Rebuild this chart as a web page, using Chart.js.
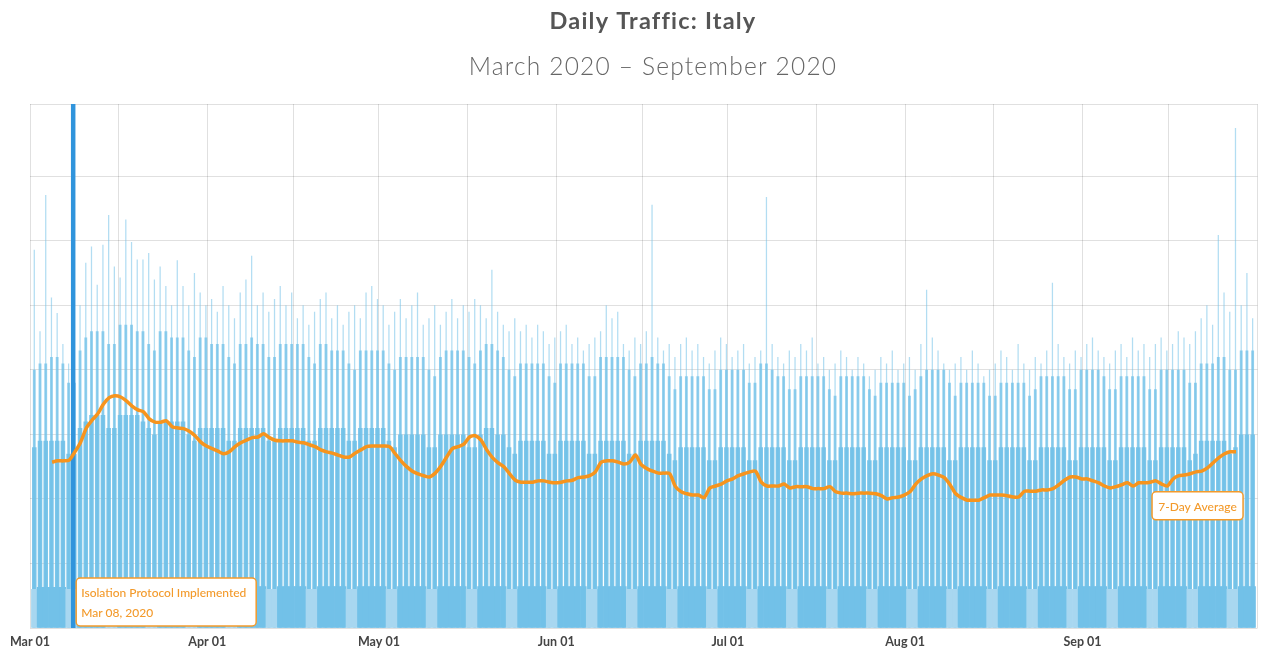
<!DOCTYPE html>
<html>
<head>
<meta charset="utf-8">
<title>Daily Traffic: Italy</title>
<script src="https://cdn.jsdelivr.net/npm/chart.js@4.4.0/dist/chart.umd.min.js"></script>
<style>
  html, body { margin: 0; padding: 0; background: #fff; }
  .wrap { width: 1264px; height: 650px; position: relative; }
</style>
</head>
<body>
<div class="wrap"><canvas id="chart"></canvas></div>
<script>
// x axis is "days since Mar 01, 2020"
const monthLabels = ['Mar 01', 'Apr 01', 'May 01', 'Jun 01', 'Jul 01', 'Aug 01', 'Sep 01'];
const monthStarts = [0, 31, 61, 92, 122, 153, 184];
const monthEnd = 214;

// evening peak of each day (one row = one week, Sun..Sat)
const dailyPeak = [
  58.6, 46, 67.1, 51.2, 48.8, 44, 41,
  43, 50, 56.6, 59.1, 53.2, 59.4, 64.0,
  56.0, 54.3, 63.3, 59.8, 57.1, 57.1, 58.1,
  54, 56, 53, 50, 57, 53, 50,
  55, 52, 50, 51, 49, 53, 50,
  48, 52, 54, 57.7, 50, 52, 49,
  51, 53, 50, 52, 48, 50, 47,
  49, 51, 52, 48, 50, 47, 49,
  50, 48, 52, 53, 51, 50, 47,
  49, 51, 48, 50, 52, 47, 48,
  50, 47, 49, 51, 48, 50, 49,
  51, 50, 48, 55.5, 49, 47, 46,
  48, 46, 47, 45, 47, 46, 44,
  45, 46, 47, 44, 45, 43, 44,
  45, 46, 50, 48, 49, 44, 43,
  45, 44, 46, 65.6, 45, 43, 44,
  42, 44, 45, 43, 44, 42, 41,
  43, 45, 44, 42, 43, 44, 41,
  42, 43, 66.8, 44, 42, 41, 43,
  42, 44, 43, 45, 41, 42, 40,
  41, 43, 42, 40, 42, 41, 39,
  40, 42, 41, 43, 40, 41, 42,
  40, 44, 52.4, 45, 43, 41, 40,
  41, 42, 40, 43, 41, 39, 40,
  41, 43, 42, 40, 44, 41, 40,
  42, 41, 43, 53.5, 44, 42, 41,
  43, 42, 44, 45, 43, 42, 41,
  43, 44, 42, 45, 43, 44, 42,
  44, 45, 43, 44, 46, 45, 44,
  46, 48, 50, 47, 60.9, 52, 49,
  77.5, 50, 55, 48
];

// upper edge of the busy hours
const dailyBody = [
  40, 41, 41, 42, 42, 41, 38,
  38, 43, 45, 46, 46, 46, 44,
  44, 47, 47, 47, 46, 46, 44,
  43, 46, 46, 45, 45, 45, 43,
  42, 45, 45, 44, 44, 44, 42,
  41, 44, 44, 45, 44, 44, 42,
  42, 44, 44, 44, 44, 44, 42,
  41, 44, 44, 43, 43, 43, 41,
  40, 43, 43, 43, 43, 43, 41,
  40, 42, 42, 42, 42, 42, 40,
  39, 42, 43, 43, 43, 43, 42,
  41, 43, 44, 44, 43, 42, 40,
  39, 41, 41, 41, 41, 41, 39,
  38, 41, 41, 41, 41, 41, 39,
  39, 42, 42, 42, 42, 42, 40,
  39, 41, 41, 42, 41, 41, 39,
  37, 39, 39, 39, 39, 39, 37,
  37, 40, 40, 40, 40, 40, 38,
  38, 41, 41, 40, 39, 39, 37,
  37, 39, 39, 39, 39, 39, 37,
  36, 39, 39, 39, 39, 39, 37,
  36, 38, 38, 38, 38, 38, 36,
  37, 39, 40, 40, 40, 40, 38,
  36, 38, 38, 38, 38, 38, 36,
  36, 38, 38, 38, 38, 38, 36,
  37, 39, 39, 39, 39, 39, 37,
  37, 40, 40, 40, 40, 39, 37,
  37, 39, 39, 39, 39, 39, 37,
  37, 40, 40, 40, 40, 40, 38,
  38, 41, 41, 41, 42, 42, 40,
  40, 43, 43, 43
];

// level most hours of the day stay above
const dailyCore = [
  28, 29, 29, 29, 29, 29, 27,
  27, 31, 32, 33, 33, 33, 31,
  31, 33, 33, 33, 33, 32, 31,
  30, 32, 32, 32, 32, 32, 30,
  29, 31, 31, 31, 31, 31, 29,
  29, 31, 31, 31, 31, 31, 29,
  29, 31, 31, 31, 31, 31, 29,
  29, 31, 31, 31, 31, 31, 29,
  29, 31, 31, 31, 31, 31, 29,
  28, 30, 30, 30, 30, 30, 28,
  28, 30, 30, 30, 30, 30, 28,
  28, 30, 31, 31, 30, 30, 28,
  27, 29, 29, 29, 29, 29, 27,
  27, 29, 29, 29, 29, 29, 27,
  27, 29, 29, 29, 29, 29, 27,
  27, 29, 29, 29, 29, 29, 27,
  26, 28, 28, 28, 28, 28, 26,
  26, 28, 28, 28, 28, 28, 26,
  26, 28, 28, 28, 28, 28, 26,
  26, 28, 28, 28, 28, 28, 26,
  26, 28, 28, 28, 28, 28, 26,
  26, 28, 28, 28, 28, 28, 26,
  26, 28, 28, 28, 28, 28, 26,
  26, 28, 28, 28, 28, 28, 26,
  26, 28, 28, 28, 28, 28, 26,
  26, 28, 28, 28, 28, 28, 26,
  26, 28, 28, 28, 28, 28, 26,
  26, 28, 28, 28, 28, 28, 26,
  26, 28, 28, 28, 28, 28, 26,
  27, 29, 29, 29, 29, 29, 27,
  28, 30, 30, 30
];

// night-time low of each day
const dailyLow = [
  6.0, 6.3, 6.3, 6.3, 6.3, 6.3, 6.0,
  6.0, 6.4, 6.4, 6.4, 6.4, 6.4, 6.0,
  6.0, 6.4, 6.4, 6.4, 6.4, 6.4, 6.0,
  6.0, 6.4, 6.4, 6.4, 6.4, 6.4, 6.0,
  6.0, 6.4, 6.4, 6.4, 6.4, 6.4, 6.0,
  6.0, 6.4, 6.4, 6.4, 6.4, 6.4, 6.0,
  6.0, 6.4, 6.4, 6.4, 6.4, 6.4, 6.0,
  6.0, 6.4, 6.4, 6.4, 6.4, 6.4, 6.0,
  6.0, 6.4, 6.4, 6.4, 6.4, 6.4, 6.0,
  6.0, 6.4, 6.4, 6.4, 6.4, 6.4, 6.0,
  6.0, 6.4, 6.4, 6.4, 6.4, 6.4, 6.0,
  6.0, 6.4, 6.4, 6.4, 6.4, 6.4, 6.0,
  6.0, 6.4, 6.4, 6.4, 6.4, 6.4, 6.0,
  6.0, 6.4, 6.4, 6.4, 6.4, 6.4, 6.0,
  6.0, 6.4, 6.4, 6.4, 6.4, 6.4, 6.0,
  6.0, 6.4, 6.4, 6.4, 6.4, 6.4, 6.0,
  6.0, 6.4, 6.4, 6.4, 6.4, 6.4, 6.0,
  6.0, 6.4, 6.4, 6.4, 6.4, 6.4, 6.0,
  6.0, 6.4, 6.4, 6.4, 6.4, 6.4, 6.0,
  6.0, 6.4, 6.4, 6.4, 6.4, 6.4, 6.0,
  6.0, 6.4, 6.4, 6.4, 6.4, 6.4, 6.0,
  6.0, 6.4, 6.4, 6.4, 6.4, 6.4, 6.0,
  6.0, 6.4, 6.4, 6.4, 6.4, 6.4, 6.0,
  6.0, 6.4, 6.4, 6.4, 6.4, 6.4, 6.0,
  6.0, 6.4, 6.4, 6.4, 6.4, 6.4, 6.0,
  6.0, 6.4, 6.4, 6.4, 6.4, 6.4, 6.0,
  6.0, 6.4, 6.4, 6.4, 6.4, 6.4, 6.0,
  6.0, 6.4, 6.4, 6.4, 6.4, 6.4, 6.0,
  6.0, 6.4, 6.4, 6.4, 6.4, 6.4, 6.0,
  6.0, 6.4, 6.4, 6.4, 6.4, 6.4, 6.0,
  6.0, 6.4, 6.4, 6.4
];

// 7-day average, first value is Mar 04
const avg7Start = 3;
const avg7 = [
  25.7, 25.9, 25.9, 26.0, 27.3, 28.8, 31.0, 32.2, 33.2, 34.7,
  35.7, 36.0, 35.8, 35.2, 34.4, 33.8, 33.5, 32.4, 31.9, 31.9,
  32.1, 31.2, 31.0, 30.9, 30.5, 29.8, 28.8, 28.2, 27.8, 27.4,
  27.0, 27.3, 28.1, 28.7, 29.1, 29.5, 29.6, 30.1, 29.5, 29.1,
  29.0, 29.0, 29.0, 28.8, 28.7, 28.4, 28.1, 27.6, 27.3, 27.1,
  26.8, 26.5, 26.5, 27.1, 27.6, 28.1, 28.2, 28.2, 28.2, 28.1,
  27.0, 25.9, 25.0, 24.3, 23.9, 23.6, 23.4, 24.0, 25.1, 26.5,
  27.8, 28.1, 28.5, 29.6, 29.8, 29.1, 27.6, 26.4, 25.6, 25.0,
  23.9, 22.9, 22.6, 22.6, 22.6, 22.8, 22.8, 22.6, 22.5, 22.6,
  22.8, 22.9, 23.3, 23.4, 23.6, 24.2, 25.7, 25.9, 25.9, 25.7,
  25.4, 25.7, 26.8, 25.3, 24.7, 24.3, 24.0, 24.0, 23.9, 21.9,
  21.1, 20.8, 20.6, 20.6, 20.2, 21.7, 22.0, 22.3, 22.8, 23.1,
  23.6, 23.9, 24.2, 24.3, 22.6, 22.0, 22.0, 22.0, 22.3, 21.7,
  21.9, 21.9, 21.9, 21.6, 21.6, 21.6, 21.9, 21.1, 20.9, 20.9,
  20.8, 20.9, 20.9, 20.9, 20.8, 20.5, 20.0, 20.2, 20.3, 20.6,
  21.1, 22.3, 23.1, 23.6, 23.9, 23.7, 23.3, 22.2, 20.8, 20.2,
  19.8, 19.8, 19.8, 20.2, 20.6, 20.6, 20.6, 20.5, 20.3, 20.3,
  21.2, 21.2, 21.2, 21.4, 21.4, 21.6, 22.2, 22.9, 23.4, 23.4,
  23.1, 23.1, 22.8, 22.5, 22.0, 21.7, 21.9, 22.2, 22.5, 22.0,
  22.5, 22.5, 22.6, 22.8, 22.3, 22.0, 23.1, 23.6, 23.7, 23.9,
  24.2, 24.3, 24.8, 25.6, 26.4, 27.0, 27.3, 27.3
];

const eventDay = 7.55;
const eventTitle = 'Isolation Protocol Implemented';
const eventDate = 'Mar 08, 2020';
const titleText = 'Daily Traffic: Italy';
const subtitleText = 'March 2020 – September 2020';

const yMax = 81.2;
const xMax = 214.6;

const orange = '#f7941d';
const orangeText = '#f39a2b';
const blueDark = 'rgb(114, 193, 232)';
const blueLight = 'rgb(168, 215, 240)';

// Mar 01 2020 was a Sunday
const isWeekend = (i) => i % 7 === 0 || i % 7 === 6;

const toPoints = (arr, start, off) => arr.map((v, i) => ({ x: start + i + off, y: v }));

function drawBox(ctx, x, y, w, h, lines, align) {
  ctx.save();
  ctx.beginPath();
  ctx.roundRect(x, y, w, h, 4);
  ctx.fillStyle = '#fff';
  ctx.fill();
  ctx.lineWidth = 1.5;
  ctx.strokeStyle = orangeText;
  ctx.stroke();
  ctx.fillStyle = orangeText;
  ctx.font = '500 12px Lato';
  ctx.textBaseline = 'middle';
  ctx.textAlign = align;
  const tx = align === 'center' ? x + w / 2 : x + 5;
  if (lines.length === 1) {
    ctx.fillText(lines[0], tx, y + h / 2 + 1);
  } else {
    lines.forEach((t, i) => ctx.fillText(t, tx, y + 15 + i * 20));
  }
  ctx.restore();
}

const annotationBoxes = {
  id: 'annotationBoxes',
  afterDraw(chart) {
    const { ctx, chartArea, scales } = chart;
    const ex = scales.x.getPixelForValue(eventDay);
    drawBox(ctx, ex + 3, chartArea.bottom - 50, 180, 48, [eventTitle, eventDate], 'left');

    const meta = chart.getDatasetMeta(0);
    const last = meta.data[meta.data.length - 1];
    drawBox(ctx, last.x - 84, last.y + 40, 91, 28, ['7-Day Average'], 'center');

    // title block
    ctx.save();
    ctx.textAlign = 'center';
    ctx.textBaseline = 'alphabetic';
    ctx.fillStyle = '#555';
    ctx.font = 'bold 23.5px Lato';
    ctx.letterSpacing = '1.2px';
    ctx.fillText(titleText, 653, 29);
    ctx.fillStyle = '#666';
    ctx.font = '300 24.5px Lato';
    ctx.letterSpacing = '1.2px';
    ctx.fillText(subtitleText, 653, 75);
    ctx.restore();
  }
};

const chart = document.getElementById('chart');

new Chart(chart, {
  type: 'bar',
  data: {
    datasets: [
      {
        type: 'line',
        label: '7-Day Average',
        data: toPoints(avg7, avg7Start, 0.85),
        borderColor: orange,
        borderWidth: 3.5,
        pointRadius: 0,
        tension: 0.25,
        borderJoinStyle: 'round',
        order: 0
      },
      {
        type: 'line',
        label: eventTitle,
        data: [{ x: eventDay, y: 0 }, { x: eventDay, y: yMax }],
        borderColor: '#3094dc',
        borderWidth: 4.5,
        pointRadius: 0,
        order: 1
      },
      {
        label: 'low',
        data: toPoints(dailyLow, 0, 0.75),
        backgroundColor: (ctx) => isWeekend(ctx.dataIndex) ? blueLight : blueDark,
        barPercentage: 1,
        categoryPercentage: 1,
        grouped: false,
        order: 2
      },
      {
        label: 'peak',
        data: toPoints(dailyPeak, 0, 0.75),
        backgroundColor: 'rgba(114, 193, 232, 0.55)',
        barPercentage: 0.22,
        categoryPercentage: 1,
        grouped: false,
        order: 3
      },
      {
        label: 'body',
        data: toPoints(dailyBody, 0, 0.75),
        backgroundColor: 'rgba(114, 193, 232, 0.75)',
        barPercentage: 0.5,
        categoryPercentage: 1,
        grouped: false,
        order: 4
      },
      {
        label: 'core',
        data: toPoints(dailyCore, 0, 0.75),
        backgroundColor: 'rgba(114, 193, 232, 0.9)',
        barPercentage: 0.8,
        categoryPercentage: 1,
        grouped: false,
        order: 5
      }
    ]
  },
  options: {
    responsive: true,
    maintainAspectRatio: false,
    animation: false,
    devicePixelRatio: 1,
    layout: { padding: { left: 30, right: 3, top: 104, bottom: -6 } },
    plugins: {
      legend: { display: false },
      tooltip: { enabled: false },
      title: { display: false }
    },
    scales: {
      x: {
        type: 'linear',
        min: 0,
        max: xMax,
        offset: false,
        z: 1,
        afterBuildTicks: (scale) => {
          const ticks = [];
          monthStarts.forEach((s, i) => {
            const e = i + 1 < monthStarts.length ? monthStarts[i + 1] : monthEnd;
            ticks.push({ value: s });
            ticks.push({ value: (s + e) / 2 });
          });
          ticks.push({ value: xMax });
          scale.ticks = ticks;
        },
        ticks: {
          autoSkip: false,
          maxRotation: 0,
          padding: 6.5,
          color: '#444',
          font: { family: 'Lato', size: 12.5, weight: 'bold' },
          callback: (v) => {
            const i = monthStarts.indexOf(v);
            return i >= 0 ? monthLabels[i] : '';
          }
        },
        grid: { color: 'rgba(0, 0, 0, 0.12)', drawTicks: false, offset: false },
        border: { display: false }
      },
      y: {
        min: 0,
        max: yMax,
        z: 1,
        ticks: { display: false, stepSize: 10 },
        grid: { color: 'rgba(0, 0, 0, 0.12)', drawTicks: false },
        border: { display: false }
      }
    }
  },
  plugins: [annotationBoxes]
});
</script>
</body>
</html>
